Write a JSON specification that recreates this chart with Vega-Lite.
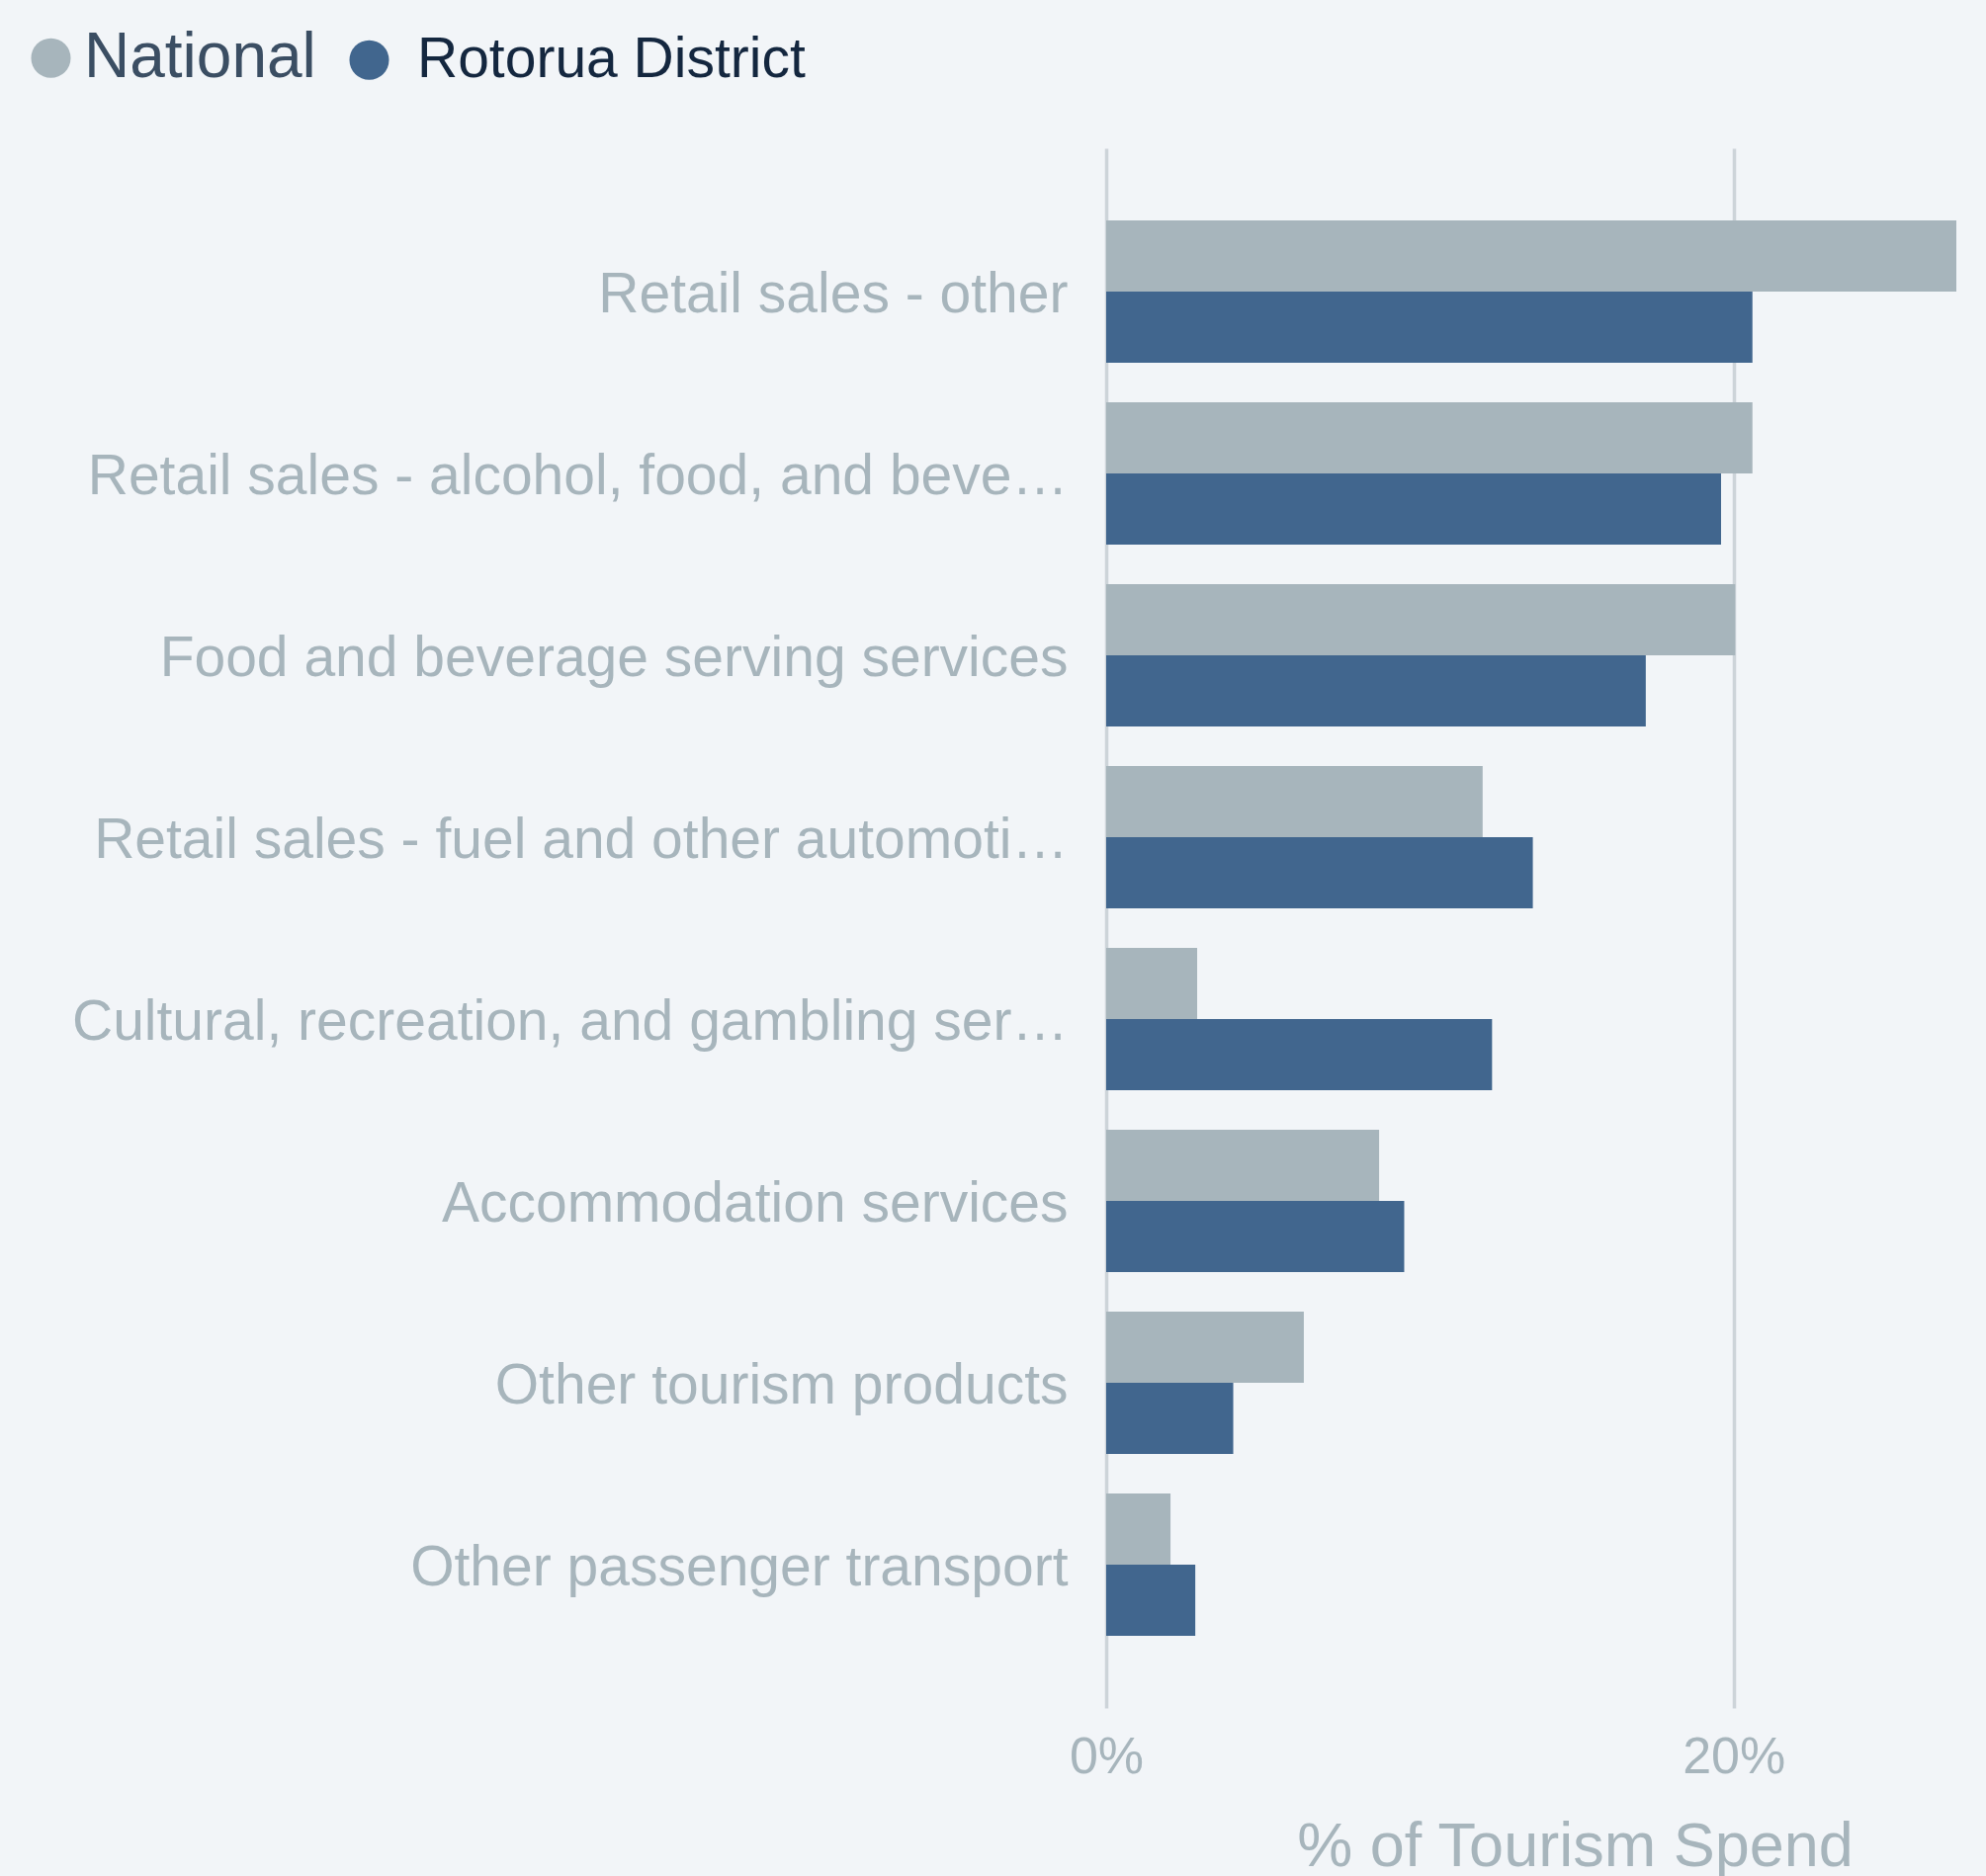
{
  "$schema": "https://vega.github.io/schema/vega-lite/v6.json",
  "autosize": {"type": "none"},
  "padding": {"left": 1119, "top": 150, "right": 30, "bottom": 170},
  "width": 860,
  "height": 1578,
  "background": "#f2f5f8",
  "config": {
    "view": {"stroke": null},
    "font": "Liberation Sans"
  },
  "data": {
    "values": [
      {"category": "Retail sales - other", "series": "National", "share": 0.271},
      {"category": "Retail sales - other", "series": "Rotorua District", "share": 0.206},
      {"category": "Retail sales - alcohol, food, and beverages", "series": "National", "share": 0.206},
      {"category": "Retail sales - alcohol, food, and beverages", "series": "Rotorua District", "share": 0.196},
      {"category": "Food and beverage serving services", "series": "National", "share": 0.2005},
      {"category": "Food and beverage serving services", "series": "Rotorua District", "share": 0.172},
      {"category": "Retail sales - fuel and other automotive products", "series": "National", "share": 0.120},
      {"category": "Retail sales - fuel and other automotive products", "series": "Rotorua District", "share": 0.136},
      {"category": "Cultural, recreation, and gambling services", "series": "National", "share": 0.029},
      {"category": "Cultural, recreation, and gambling services", "series": "Rotorua District", "share": 0.123},
      {"category": "Accommodation services", "series": "National", "share": 0.087},
      {"category": "Accommodation services", "series": "Rotorua District", "share": 0.095},
      {"category": "Other tourism products", "series": "National", "share": 0.063},
      {"category": "Other tourism products", "series": "Rotorua District", "share": 0.0405},
      {"category": "Other passenger transport", "series": "National", "share": 0.0205},
      {"category": "Other passenger transport", "series": "Rotorua District", "share": 0.0284}
    ]
  },
  "mark": {"type": "bar", "cornerRadius": 0},
  "encoding": {
    "y": {
      "field": "category",
      "type": "nominal",
      "sort": null,
      "scale": {"paddingInner": 0.217, "paddingOuter": 0.397},
      "axis": {
        "title": null,
        "domain": false,
        "ticks": false,
        "tickSize": 0,
        "grid": false,
        "labelFontSize": 57,
        "labelColor": "#a7b5bc",
        "labelPadding": 39,
        "labelOffset": 4,
        "labelLimit": 1010
      }
    },
    "yOffset": {
      "field": "series",
      "type": "nominal",
      "scale": {"domain": ["National", "Rotorua District"], "paddingInner": 0, "paddingOuter": 0}
    },
    "x": {
      "field": "share",
      "type": "quantitative",
      "scale": {"domain": [0, 0.271], "nice": false},
      "axis": {
        "title": "% of Tourism Spend",
        "values": [0, 0.2],
        "format": ".0%",
        "domain": false,
        "ticks": false,
        "tickSize": 0,
        "grid": true,
        "gridColor": "#cdd4d9",
        "gridWidth": 3.5,
        "labelFontSize": 52,
        "labelColor": "#a7b5bc",
        "labelPadding": 24,
        "labelFlush": false,
        "titleFontSize": 63,
        "titleFontWeight": "normal",
        "titleColor": "#a7b5bc",
        "titlePadding": 34,
        "titleX": 474,
        "titleAlign": "center"
      }
    },
    "color": {
      "field": "series",
      "type": "nominal",
      "scale": {"domain": ["National", "Rotorua District"], "range": ["#a7b5bc", "#41668e"]},
      "legend": {
        "title": null,
        "orient": "none",
        "direction": "horizontal",
        "legendX": -1096,
        "legendY": -120,
        "padding": 0,
        "symbolType": "circle",
        "symbolSize": 1600,
        "symbolStrokeWidth": 0,
        "labelFontSize": {"expr": "datum.label == 'National' ? 64 : 57"},
        "labelColor": {"expr": "datum.label == 'National' ? '#3b4e63' : '#14273f'"},
        "labelOffset": {"expr": "datum.label == 'National' ? 5 : 20"},
        "labelLimit": 800,
        "columnPadding": 25
      }
    }
  }
}
